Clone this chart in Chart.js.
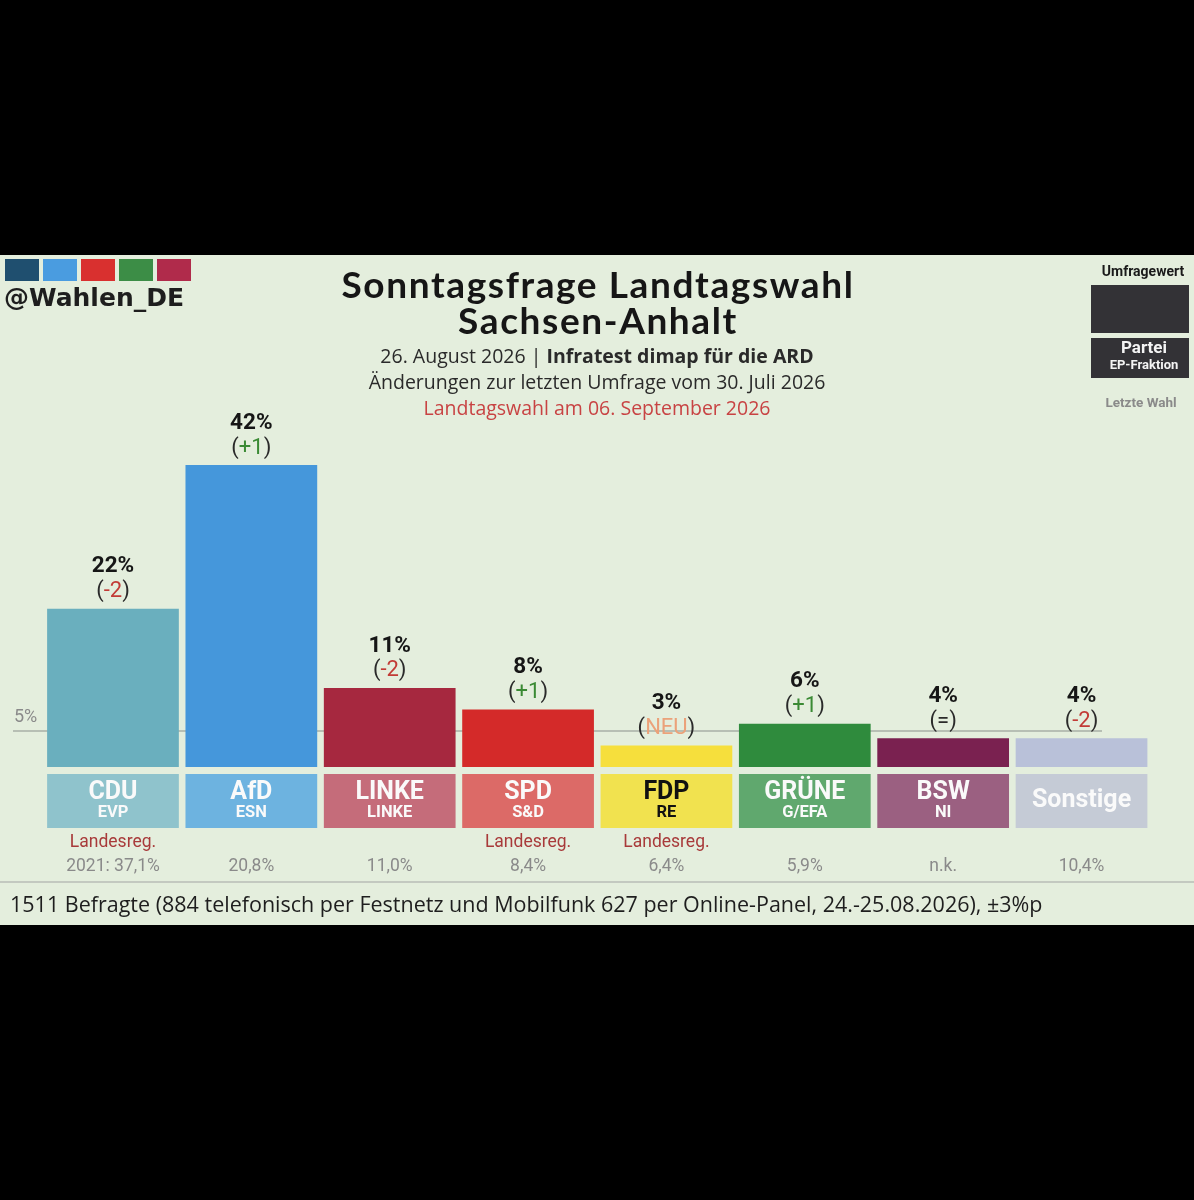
<!DOCTYPE html>
<html>
<head>
<meta charset="utf-8">
<script src="https://cdn.jsdelivr.net/npm/chart.js@4.4.1/dist/chart.umd.min.js"></script>
<style>
  html, body { margin: 0; padding: 0; background: #000; }
  #poll { display: block; }
</style>
</head>
<body>
<canvas id="poll" width="1194" height="1200"></canvas>
<script>
// poll data
const parties = ['CDU', 'AfD', 'LINKE', 'SPD', 'FDP', 'GRÜNE', 'BSW', 'Sonstige'];
const fractions = ['EVP', 'ESN', 'LINKE', 'S&D', 'RE', 'G/EFA', 'NI', ''];
const values = [22, 42, 11, 8, 3, 6, 4, 4];
const changes = ['-2', '+1', '-2', '+1', 'NEU', '+1', '=', '-2'];
const lastVote = ['2021: 37,1%', '20,8%', '11,0%', '8,4%', '6,4%', '5,9%', 'n.k.', '10,4%'];
const inGovernment = [true, false, false, true, true, false, false, false];
const threshold = 5;

const barColors = ['#6aafbe', '#4597db', '#a6283f', '#d42a29', '#f6df3c', '#2f8b3d', '#7a2150', '#b9c1d9'];
const boxColors = ['#8fc3cc', '#6db3e0', '#c56c7a', '#dc6a67', '#f1e24f', '#60a86e', '#9b6081', '#c5cbd6'];

const SANS = '"Open Sans", sans-serif';
const ROB = 'Roboto, sans-serif';

function text(ctx, s, x, y, font, color, align, spacing) {
  ctx.font = font;
  ctx.fillStyle = color;
  ctx.textAlign = align || 'center';
  ctx.textBaseline = 'middle';
  ctx.letterSpacing = spacing || '0px';
  ctx.fillText(s, x, y);
  ctx.letterSpacing = '0px';
}

// "(+1)" with dark parens and coloured inner part
function changeLabel(ctx, c, x, y) {
  ctx.font = '22px ' + ROB;
  let col = '#2a2a2a';
  if (c === 'NEU') col = '#eba27a';
  else if (c.startsWith('+')) col = '#3a8a34';
  else if (c.startsWith('-')) col = '#c23b36';
  const wl = ctx.measureText('(').width;
  const wm = ctx.measureText(c).width;
  const wr = ctx.measureText(')').width;
  const x0 = x - (wl + wm + wr) / 2;
  ctx.textAlign = 'left';
  ctx.textBaseline = 'middle';
  ctx.fillStyle = '#2a2a2a';
  ctx.fillText('(', x0, y);
  ctx.fillStyle = col;
  ctx.fillText(c, x0 + wl, y);
  ctx.fillStyle = '#2a2a2a';
  ctx.fillText(')', x0 + wl + wm, y);
}

const decor = {
  id: 'decor',
  beforeDraw(chart) {
    const ctx = chart.ctx;
    ctx.save();
    ctx.fillStyle = '#000';
    ctx.fillRect(0, 0, 1194, 1200);
    ctx.fillStyle = '#e4eedd';
    ctx.fillRect(0, 255, 1194, 670);

    // logo
    const logo = ['#1f4f6f', '#4a9ce0', '#d9302f', '#3c8d46', '#b02b4b'];
    logo.forEach((c, i) => { ctx.fillStyle = c; ctx.fillRect(5 + i * 38, 259, 34, 22); });
    text(ctx, '@Wahlen_DE', 4, 299, 'bold 25px "DejaVu Sans", sans-serif', '#1e1e1e', 'left');

    // title block
    text(ctx, 'Sonntagsfrage Landtagswahl', 598, 286, 'bold 37px Lato, sans-serif', '#161616', 'center', '1.6px');
    text(ctx, 'Sachsen-Anhalt', 598, 322, 'bold 37px Lato, sans-serif', '#161616', 'center', '1.6px');
    const a = '26. August 2026 | ';
    const b = 'Infratest dimap für die ARD';
    ctx.font = 'bold 19.5px ' + SANS;
    const wb = ctx.measureText(b).width;
    ctx.font = '19.5px ' + SANS;
    const wa = ctx.measureText(a).width;
    const sx = 597 - (wa + wb) / 2;
    text(ctx, a, sx, 357, '19.5px ' + SANS, '#2a2a2a', 'left');
    text(ctx, b, sx + wa, 357, 'bold 19.5px ' + SANS, '#2a2a2a', 'left');
    text(ctx, 'Änderungen zur letzten Umfrage vom 30. Juli 2026', 597, 383, '19.5px ' + SANS, '#2a2a2a');
    text(ctx, 'Landtagswahl am 06. September 2026', 597, 409, '19.5px ' + SANS, '#c84343');

    // legend key top right
    text(ctx, 'Umfragewert', 1143, 272, 'bold 14px ' + ROB, '#1a1a1a');
    ctx.fillStyle = '#333236';
    ctx.fillRect(1091, 285, 98, 48);
    ctx.fillRect(1091, 338, 98, 40);
    text(ctx, 'Partei', 1144, 349, 'bold 17px ' + ROB, '#f4f4f4');
    text(ctx, 'EP-Fraktion', 1144, 366, 'bold 13px ' + ROB, '#f4f4f4');
    text(ctx, 'Letzte Wahl', 1141, 404, 'bold 13.5px ' + ROB, '#8a8a8a');

    // 5% threshold line
    const y5 = chart.scales.y.getPixelForValue(threshold);
    ctx.strokeStyle = '#a9afa6';
    ctx.lineWidth = 1.5;
    ctx.beginPath();
    ctx.moveTo(13, y5);
    ctx.lineTo(1102, y5);
    ctx.stroke();
    text(ctx, threshold + '%', 14, y5 - 14, '18px ' + ROB, '#8a8a8a', 'left');

    // footer
    ctx.strokeStyle = '#b9bdb6';
    ctx.lineWidth = 1.5;
    ctx.beginPath();
    ctx.moveTo(0, 882);
    ctx.lineTo(1194, 882);
    ctx.stroke();
    text(ctx, '1511 Befragte (884 telefonisch per Festnetz und Mobilfunk 627 per Online-Panel, 24.-25.08.2026), ±3%p',
      10, 906, '21.5px ' + SANS, '#1e1e1e', 'left');
    ctx.restore();
  },
  afterDatasetsDraw(chart) {
    const ctx = chart.ctx;
    const meta = chart.getDatasetMeta(0);
    ctx.save();
    meta.data.forEach((bar, i) => {
      const x = bar.x;
      const w = bar.width;
      // value + change above bar
      text(ctx, values[i] + '%', x, bar.y - 42, 'bold 22.5px ' + ROB, '#161616');
      changeLabel(ctx, changes[i], x, bar.y - 17);
      // party box
      ctx.fillStyle = boxColors[i];
      ctx.fillRect(x - w / 2, 774, w, 54);
      const fg = parties[i] === 'FDP' ? '#111' : '#fafafa';
      if (fractions[i]) {
        text(ctx, parties[i], x, 793, 'bold 25px ' + ROB, fg);
        text(ctx, fractions[i], x, 813, 'bold 16.5px ' + ROB, fg);
      } else {
        text(ctx, parties[i], x, 801, 'bold 25px ' + ROB, fg);
      }
      if (inGovernment[i]) text(ctx, 'Landesreg.', x, 843, '17.5px ' + ROB, '#a83a3a');
      text(ctx, lastVote[i], x, 867, '17.5px ' + ROB, '#8a8a8a');
    });
    ctx.restore();
  }
};

new Chart(document.getElementById('poll'), {
  type: 'bar',
  data: {
    labels: parties,
    datasets: [{
      data: values,
      backgroundColor: barColors,
      borderWidth: 0,
      categoryPercentage: 0.952,
      barPercentage: 1
    }]
  },
  options: {
    responsive: false,
    animation: false,
    devicePixelRatio: 1,
    layout: { padding: { left: 43.8, right: 43.3, top: 407.5, bottom: 433 } },
    plugins: { legend: { display: false }, tooltip: { enabled: false } },
    scales: {
      x: { display: false },
      y: { display: false, min: 0, max: 50 }
    }
  },
  plugins: [decor]
});
</script>
</body>
</html>
